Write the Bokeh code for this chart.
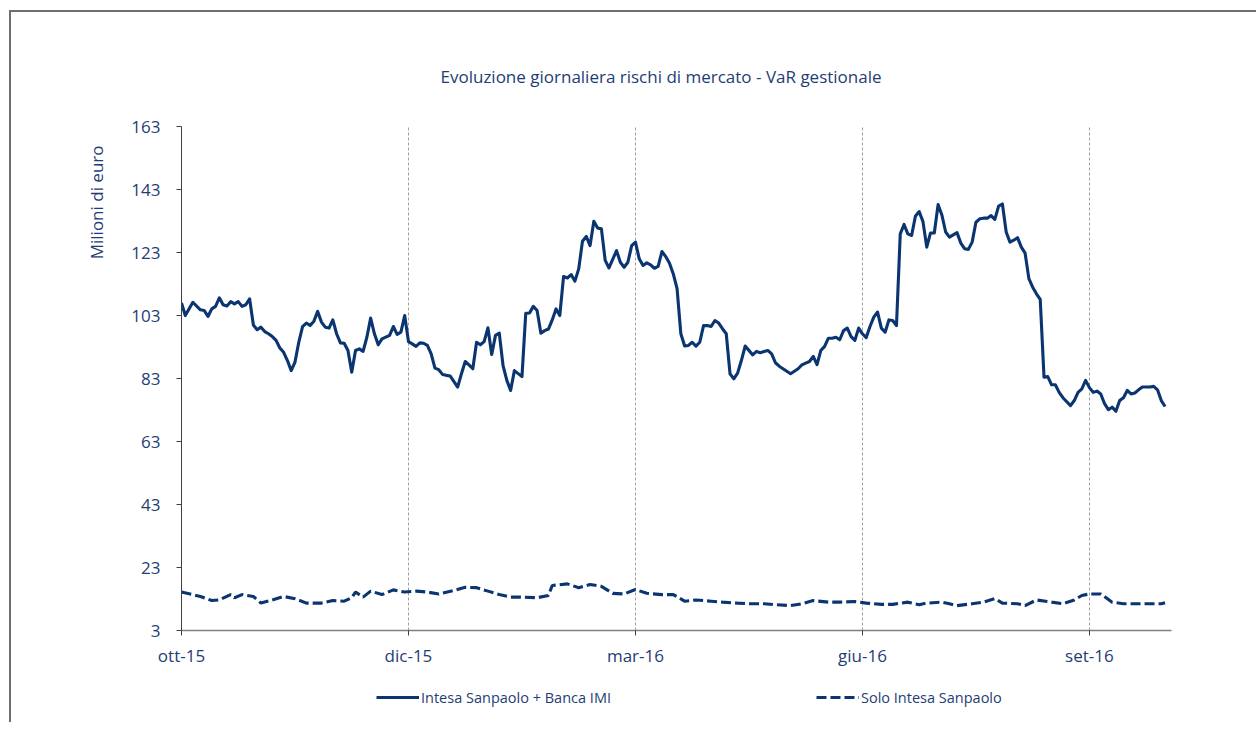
from bokeh.plotting import figure
from bokeh.layouts import column
from bokeh.models import (Range1d, FixedTicker, Title, Legend, LegendItem)
from bokeh.embed import file_html
from bokeh.resources import INLINE

# ---- data -------------------------------------------------------------
tick_pos = [0, 60, 120, 180, 240]
tick_labels = ["ott-15", "dic-15", "mar-16", "giu-16", "set-16"]
y_ticks = [3, 23, 43, 63, 83, 103, 123, 143, 163]

total_day = [0, 1, 3, 5, 6, 7, 8, 9, 10, 11, 12, 13, 14, 15, 16, 17, 18, 19, 20, 21,
             22, 23, 24, 25, 26, 27, 28, 29, 30, 31, 32, 33, 34, 35, 36, 37, 38, 39, 40, 41,
             42, 43, 44, 45, 46, 47, 48, 49, 50, 51, 52, 53, 55, 56, 57, 58, 59, 60, 61, 62,
             63, 64, 65, 66, 67, 68, 69, 70, 71, 73, 74, 75, 76, 77, 78, 79, 80, 81, 82, 83,
             84, 85, 86, 87, 88, 90, 91, 92, 93, 94, 95, 96, 97, 98, 99, 100, 101, 102, 103, 104,
             105, 106, 107, 108, 109, 110, 111, 112, 113, 115, 116, 117, 118, 119, 120, 121, 122, 123, 124, 125,
             126, 127, 128, 129, 130, 131, 132, 133, 134, 135, 136, 137, 138, 139, 140, 141, 142, 143, 144, 145,
             146, 147, 148, 149, 151, 152, 153, 154, 155, 156, 157, 158, 159, 160, 161, 163, 164, 165, 166, 167,
             168, 169, 170, 171, 172, 173, 174, 175, 176, 177, 178, 179, 180, 181, 182, 183, 184, 185, 186, 187,
             188, 189, 190, 191, 192, 193, 194, 195, 196, 197, 198, 199, 200, 201, 202, 203, 205, 206, 207, 208,
             209, 210, 211, 212, 213, 214, 215, 216, 217, 218, 219, 220, 221, 222, 223, 224, 225, 226, 227, 228,
             229, 230, 231, 232, 233, 235, 236, 237, 238, 239, 240, 241, 242, 243, 244, 245, 246, 247, 248, 249,
             250, 251, 252, 253, 254, 256, 257, 258, 259, 260]
total_var = [107.0, 103.0, 107.2, 104.8, 104.6, 102.7, 105.1, 105.9, 108.6, 106.4, 106.0, 107.4, 106.7, 107.4, 105.9, 106.4, 108.3, 100.0, 98.5, 99.3,
             97.9, 97.2, 96.3, 95.1, 92.7, 91.3, 88.7, 85.5, 88.2, 94.5, 99.5, 100.6, 99.8, 101.2, 104.3, 100.9, 99.3, 99.0, 101.6, 97.2,
             94.3, 94.2, 91.9, 85.0, 91.9, 92.4, 91.6, 96.1, 102.2, 97.2, 93.7, 95.6, 96.7, 99.5, 97.0, 97.7, 103.0, 94.7, 94.0, 93.2,
             94.3, 94.2, 93.5, 90.8, 86.3, 85.8, 84.3, 84.0, 83.8, 80.3, 84.5, 88.4, 87.3, 86.1, 94.5, 93.7, 94.7, 99.1, 90.6, 96.7,
             97.4, 87.1, 82.4, 79.2, 85.5, 83.6, 103.7, 103.8, 105.9, 104.6, 97.4, 98.2, 98.7, 101.6, 105.1, 103.0, 115.4, 114.9, 116.0, 113.9,
             117.8, 126.6, 128.1, 125.2, 132.9, 130.8, 130.5, 120.5, 118.1, 123.6, 119.9, 118.3, 119.9, 125.2, 126.3, 121.0, 118.9, 119.7, 119.1, 118.0,
             118.6, 123.3, 121.7, 119.6, 116.2, 111.5, 97.2, 93.3, 93.5, 94.5, 93.3, 94.5, 99.8, 99.8, 99.5, 101.4, 100.6, 98.8, 97.2, 84.5,
             82.9, 84.7, 88.7, 93.3, 90.5, 91.6, 91.2, 91.6, 91.9, 90.8, 88.0, 86.9, 86.1, 85.3, 84.5, 86.1, 87.3, 87.9, 88.4, 90.0,
             87.4, 91.9, 93.2, 95.8, 95.8, 96.1, 95.3, 98.2, 99.0, 96.3, 95.1, 99.0, 97.2, 96.0, 99.5, 102.5, 104.1, 99.0, 97.7, 101.6,
             101.4, 99.8, 128.9, 131.9, 128.9, 128.4, 134.5, 136.0, 132.8, 124.7, 129.2, 129.2, 138.2, 134.9, 129.5, 127.9, 129.3, 126.0, 124.2, 124.0,
             126.3, 132.6, 133.7, 133.9, 133.9, 134.7, 133.5, 137.7, 138.4, 129.5, 126.3, 126.9, 127.7, 124.7, 122.8, 114.7, 112.0, 109.9, 108.1, 83.4,
             83.6, 81.0, 81.0, 78.6, 76.9, 74.4, 76.0, 78.6, 79.7, 82.4, 80.1, 78.6, 79.0, 78.1, 75.0, 73.1, 73.9, 72.6, 76.0, 76.9,
             79.2, 78.1, 78.4, 79.4, 80.3, 80.3, 80.5, 79.4, 76.0, 74.1]

solo_day = [0, 5, 8, 10, 13, 14, 16, 19, 21, 24, 27, 30, 33, 37, 40, 43, 45, 46, 48, 50,
            53, 56, 59, 62, 65, 68, 72, 75, 78, 81, 84, 87, 90, 94, 97, 98, 102, 105, 108, 111,
            114, 117, 120, 123, 127, 130, 133, 136, 140, 143, 147, 150, 154, 157, 161, 164, 167, 171, 174, 178,
            181, 185, 188, 192, 195, 197, 201, 203, 205, 209, 212, 215, 217, 221, 223, 226, 230, 233, 236, 238,
            240, 243, 246, 249, 253, 256, 259, 260]
solo_var = [15.2, 13.8, 12.5, 12.7, 14.4, 13.4, 14.4, 13.8, 11.7, 12.7, 13.8, 13.1, 11.7, 11.7, 12.5, 12.3, 13.4, 15.2, 13.6, 15.5,
            14.4, 15.9, 15.2, 15.5, 15.2, 14.6, 15.7, 16.7, 16.6, 15.5, 14.4, 13.6, 13.6, 13.4, 14.1, 17.3, 17.8, 16.6, 17.6, 17.0,
            14.8, 14.6, 16.0, 14.8, 14.4, 14.4, 12.3, 12.7, 12.3, 12.0, 11.7, 11.5, 11.5, 11.2, 10.9, 11.5, 12.5, 12.0, 12.0, 12.2,
            11.7, 11.3, 11.3, 12.0, 11.2, 11.7, 12.0, 11.5, 10.9, 11.5, 12.0, 13.1, 11.7, 11.5, 10.9, 12.7, 12.0, 11.5, 12.7, 14.1,
            14.6, 14.6, 12.0, 11.5, 11.5, 11.5, 11.5, 11.8]

title_text = "Evoluzione giornaliera rischi di mercato - VaR gestionale"
y_label_text = "Milioni di euro"
series_names = ["Intesa Sanpaolo + Banca IMI", "Solo Intesa Sanpaolo"]

# ---- style ------------------------------------------------------------
LINE = "#0a3570"
TEXT = "#1f3d74"
FONT = "Open Sans"
BORDER = "#6e6e6e"
W = 1256

p = figure(width=W, height=672, output_backend="svg", toolbar_location=None,
           x_range=Range1d(0, 261.7), y_range=Range1d(3, 163),
           min_border_left=181, min_border_top=126, min_border_right=85, min_border_bottom=42)
p.border_fill_alpha = 0
p.outline_line_color = None
p.background_fill_color = "white"

p.ygrid.grid_line_color = None
p.xgrid.ticker = FixedTicker(ticks=tick_pos[1:])
p.xgrid.grid_line_color = "#a0a0a0"
p.xgrid.grid_line_dash = "3 2"
p.xgrid.grid_line_width = 1

p.xaxis.ticker = FixedTicker(ticks=tick_pos)
p.xaxis.major_label_overrides = {t: l for t, l in zip(tick_pos, tick_labels)}
p.yaxis.ticker = FixedTicker(ticks=y_ticks)
for ax in (p.xaxis, p.yaxis):
    ax.minor_tick_line_color = None
    ax.major_tick_in = 0
    ax.major_tick_out = 5
    ax.major_tick_line_color = "#404040"
    ax.major_label_text_font = FONT
    ax.major_label_text_font_size = "17px"
    ax.major_label_text_color = TEXT
p.xaxis.axis_line_color = "#808080"
p.xaxis.axis_line_width = 1.5
p.yaxis.axis_line_color = "#404040"
p.yaxis.axis_line_width = 1
p.xaxis.major_label_standoff = 8
p.yaxis.major_label_standoff = 16

p.line(total_day, total_var, line_color=LINE, line_width=3.1, line_join="round")
p.line(solo_day, solo_var, line_color=LINE, line_width=3.1, line_dash="10 4")

p.add_layout(Title(text=title_text, align="left", offset=259, standoff=77,
                   text_font=FONT, text_font_size="17px", text_font_style="normal",
                   text_color=TEXT), "above")
p.add_layout(Title(text=y_label_text, align="right", offset=19, standoff=41,
                   text_font=FONT, text_font_size="17px", text_font_style="normal",
                   text_color=TEXT), "left")

# ---- legend strip under the chart ------------------------------------
lf = figure(width=W, height=50, output_backend="svg", toolbar_location=None,
            x_range=Range1d(-2, -1), y_range=Range1d(-2, -1),
            x_axis_type=None, y_axis_type=None, min_border=0)
lf.grid.grid_line_color = None
lf.outline_line_color = None
lf.background_fill_alpha = 0
lf.border_fill_alpha = 0
l1 = lf.line(total_day, total_var, line_color=LINE, line_width=3.1)
l2 = lf.line(solo_day, solo_var, line_color=LINE, line_width=3.1, line_dash="10 4")

legend = Legend(items=[LegendItem(label=series_names[0], renderers=[l1]),
                       LegendItem(label=series_names[1], renderers=[l2])],
                orientation="horizontal", location=(195, 15),
                glyph_width=43, glyph_height=20, label_standoff=2,
                label_width=393, spacing=2, padding=0, margin=0,
                border_line_color=None, background_fill_alpha=0,
                label_text_font=FONT, label_text_font_size="14.5px",
                label_text_color=TEXT)
lf.add_layout(legend)

page = column(p, lf, spacing=0,
              styles={"background": (f"linear-gradient({BORDER},{BORDER}) 9px 10px / 2px 100% no-repeat, "
                                     f"linear-gradient({BORDER},{BORDER}) 9px 10px / 100% 2px no-repeat, white")})

open("out.html", "w").write(file_html(page, INLINE))
